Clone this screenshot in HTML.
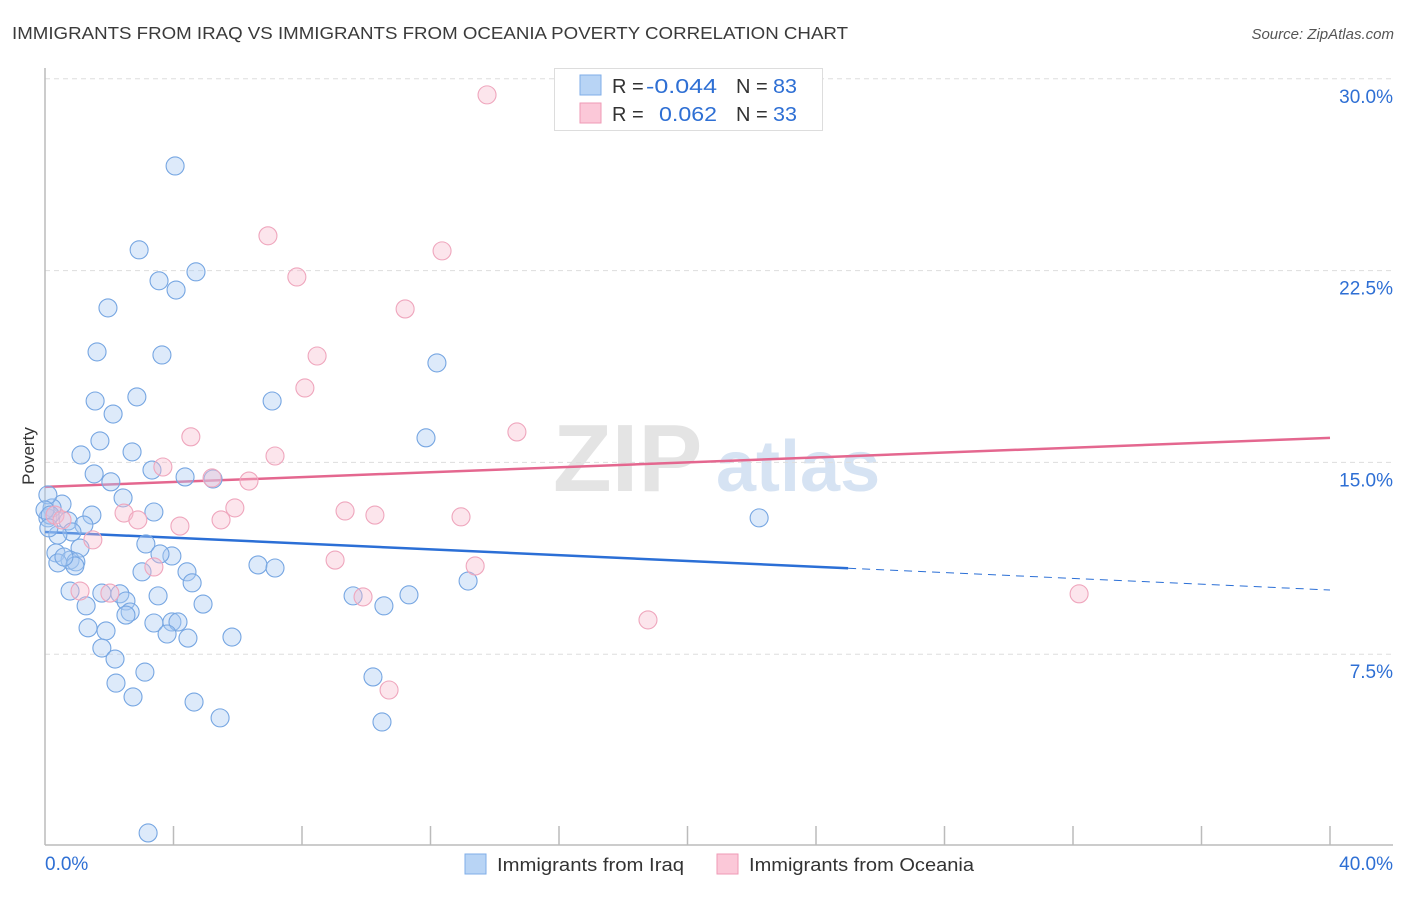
<!DOCTYPE html>
<html><head><meta charset="utf-8"><style>
body{margin:0;background:#fff;font-family:"Liberation Sans",sans-serif;}
svg text{font-family:"Liberation Sans",sans-serif;}
</style></head><body>
<svg id="chart" width="1406" height="892" viewBox="0 0 1406 892" xmlns="http://www.w3.org/2000/svg">
<text x="12" y="39" font-size="17.5" fill="#3a3a3a" textLength="836" lengthAdjust="spacingAndGlyphs">IMMIGRANTS FROM IRAQ VS IMMIGRANTS FROM OCEANIA POVERTY CORRELATION CHART</text>
<text x="1394" y="39" font-size="15" fill="#555" font-style="italic" text-anchor="end">Source: ZipAtlas.com</text>
<g>
<text x="553" y="491" font-size="96" fill="#e4e4e4" font-family="Liberation Serif" font-weight="bold">ZIP</text>
<text x="716" y="491" font-size="72" fill="#d6e3f3" font-weight="bold">atlas</text>
</g>
<g id="grid"></g>
<g id="axes"></g>
<g id="lines"></g>
<g id="points"></g>
<text transform="translate(34,456) rotate(-90)" font-size="17" fill="#333" text-anchor="middle">Poverty</text>
<g>
<rect x="554.5" y="68.5" width="268" height="62" fill="#fff" stroke="#ddd"/>
<rect x="580" y="75" width="21" height="20" fill="#b8d4f5" stroke="#7faee8"/>
<rect x="580" y="103" width="21" height="20" fill="#fbc8d8" stroke="#ef9ab6"/>
<text x="612" y="93" font-size="20" fill="#333">R =</text>
<text x="646" y="93" font-size="20" fill="#2e6fd4" textLength="71" lengthAdjust="spacingAndGlyphs">-0.044</text>
<text x="736" y="93" font-size="20" fill="#333">N =</text>
<text x="773" y="93" font-size="20" fill="#2e6fd4" textLength="24" lengthAdjust="spacingAndGlyphs">83</text>
<text x="612" y="121" font-size="20" fill="#333">R =</text>
<text x="659" y="121" font-size="20" fill="#2e6fd4" textLength="58" lengthAdjust="spacingAndGlyphs">0.062</text>
<text x="736" y="121" font-size="20" fill="#333">N =</text>
<text x="773" y="121" font-size="20" fill="#2e6fd4" textLength="24" lengthAdjust="spacingAndGlyphs">33</text>
</g>
<g>
<rect x="465" y="854" width="21" height="20" fill="#b8d4f5" stroke="#7faee8"/>
<text x="497" y="871" font-size="18.5" fill="#333" textLength="187" lengthAdjust="spacingAndGlyphs">Immigrants from Iraq</text>
<rect x="717" y="854" width="21" height="20" fill="#fbc8d8" stroke="#ef9ab6"/>
<text x="749" y="871" font-size="18.5" fill="#333" textLength="225" lengthAdjust="spacingAndGlyphs">Immigrants from Oceania</text>
</g>
</svg>
<script>
const yTicks=[7.5,15,22.5,30];
const yTickLabels=["7.5%","15.0%","22.5%","30.0%"];
const xTicks=[4,8,12,16,20,24,28,32,36,40];
const xMin=0,xMax=40,yMin=0,yMax=33.08;
const iraqX=[4.05,2.93,3.55,4.08,4.70,1.96,1.62,3.64,2.86,1.56,2.12,1.71,2.71,1.12,3.33,1.53,4.36,5.23,2.05,2.43,0.53,0.22,1.46,3.39,0.72,0.09,1.21,0.84,0.40,3.14,3.95,3.58,1.09,0.34,0.78,0.96,0.40,0.93,4.42,3.02,4.58,0.78,1.77,2.33,2.52,3.52,2.65,1.28,4.92,2.52,5.82,3.39,3.95,4.14,3.80,4.45,1.90,1.34,1.77,2.18,3.11,2.21,2.74,4.64,5.45,3.21,6.63,7.16,7.07,11.86,12.20,9.59,10.55,11.33,13.17,10.21,10.49,22.23,0.09,0.0,0.16,0.12,0.59];
const iraqY=[26.59,23.31,22.10,21.74,22.45,21.04,19.32,19.20,17.56,17.40,16.89,15.84,15.41,15.29,14.70,14.55,14.43,14.35,14.24,13.61,13.37,13.22,12.94,13.06,12.71,12.83,12.55,12.28,12.16,11.81,11.34,11.42,11.65,11.46,11.18,11.11,11.07,10.95,10.72,10.72,10.29,9.97,9.89,9.86,9.58,9.78,9.15,9.39,9.46,9.03,8.17,8.72,8.76,8.76,8.29,8.13,8.41,8.53,7.74,7.31,6.80,6.37,5.83,5.63,5.01,0.51,10.99,10.87,17.40,15.96,18.89,9.78,9.39,9.82,10.36,6.61,4.85,12.83,13.73,13.14,12.94,12.44,11.30];
const oceX=[13.76,6.94,12.36,7.84,11.21,8.47,8.09,14.69,4.54,7.16,3.67,5.20,6.35,5.91,2.46,2.89,5.48,9.34,10.27,12.95,4.20,1.49,9.03,13.39,3.39,1.09,2.02,9.90,18.77,10.71,32.19,0.31,0.53];
const oceY=[29.37,23.86,23.27,22.25,21.00,19.16,17.91,16.19,16.00,15.25,14.82,14.39,14.27,13.22,13.02,12.75,12.75,13.10,12.94,12.87,12.51,11.97,11.18,10.95,10.91,9.97,9.89,9.74,8.84,6.10,9.86,12.94,12.75];
const iraqTrend=[12.28,10.01];
const iraqSolidEnd=25;
const oceTrend=[14.04,15.96];
const L=45,R=1330,T=0,B=846;
const sx=v=>L+(v-xMin)/(xMax-xMin)*(R-L);
const sy=v=>B-(v-yMin)/(yMax-yMin)*(B-T);
const NS="http://www.w3.org/2000/svg";
function mk(tag,attrs,parent){const e=document.createElementNS(NS,tag);for(const k in attrs)e.setAttribute(k,attrs[k]);document.getElementById(parent).appendChild(e);return e;}
yTicks.forEach((t,i)=>{
 const g=mk('line',{x1:L,x2:1393,y1:sy(t),y2:sy(t),stroke:'#ddd','stroke-dasharray':'5,4'},'grid');
 
 
 const tx=mk('text',{x:1393,y:sy(t)+24,'font-size':19,fill:'#2e6fd4','text-anchor':'end'},'grid');
 tx.textContent=yTickLabels[i];
 
 
});
const ya=mk('line',{x1:L,x2:L,y1:68,y2:845,stroke:'#bbb','stroke-width':1.5},'axes');


const xa=mk('line',{x1:L,x2:1393,y1:845,y2:845,stroke:'#bbb','stroke-width':1.5},'axes');


xTicks.forEach(t=>{
 const tk=mk('line',{x1:sx(t),x2:sx(t),y1:826,y2:845,stroke:'#bbb','stroke-width':1.5},'axes');
 
 
});
const xl0=mk('text',{x:45,y:870,'font-size':19,fill:'#2e6fd4'},'axes');xl0.textContent=xMin.toFixed(1)+'%';


const xl1=mk('text',{x:1393,y:870,'font-size':19,fill:'#2e6fd4','text-anchor':'end'},'axes');xl1.textContent=xMax.toFixed(1)+'%';


const yAt=(a,x)=>a[0]+(a[1]-a[0])*(x-xMin)/(xMax-xMin);
const t1=mk('line',{x1:sx(xMin),y1:sy(iraqTrend[0]),x2:sx(iraqSolidEnd),y2:sy(yAt(iraqTrend,iraqSolidEnd)),stroke:'#2b6fd6','stroke-width':2.5},'lines');


const t2=mk('line',{x1:sx(iraqSolidEnd),y1:sy(yAt(iraqTrend,iraqSolidEnd)),x2:sx(xMax),y2:sy(iraqTrend[1]),stroke:'#2b6fd6','stroke-width':1,'stroke-dasharray':'8,6'},'lines');


const t3=mk('line',{x1:sx(xMin),y1:sy(oceTrend[0]),x2:sx(xMax),y2:sy(oceTrend[1]),stroke:'#e4678f','stroke-width':2.5},'lines');


iraqX.forEach((x,i)=>{
 const c=mk('circle',{cx:sx(x),cy:sy(iraqY[i]),r:9,fill:'rgba(170,202,242,0.4)',stroke:'#76a6e2','stroke-width':1.1},'points');
 
 
});
oceX.forEach((x,i)=>{
 const c=mk('circle',{cx:sx(x),cy:sy(oceY[i]),r:9,fill:'rgba(248,190,208,0.4)',stroke:'#efa6bd','stroke-width':1.1},'points');
 
 
});
</script>
</body></html>
